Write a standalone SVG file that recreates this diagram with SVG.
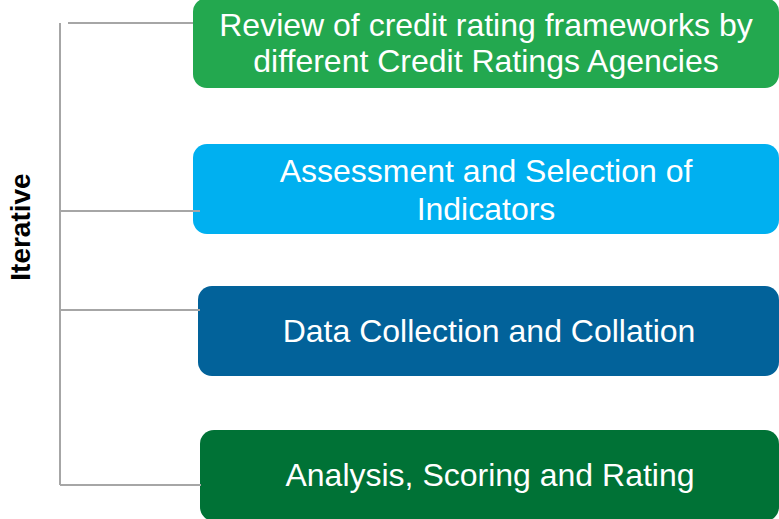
<svg xmlns="http://www.w3.org/2000/svg" width="779" height="519" viewBox="0 0 779 519">
  <style>
    .box-text { font-family: "Liberation Sans", Arial, sans-serif; font-size: 32px; fill: #ffffff; text-anchor: middle; }
    .conn { stroke: #a6a6a6; stroke-width: 2; fill: none; }
    .label { font-family: "Liberation Sans", Arial, sans-serif; font-size: 28px; font-weight: bold; fill: #000000; text-anchor: middle; }
  </style>
  <rect width="779" height="519" fill="#ffffff"/>

  <g id="iterative-label">
    <text class="label" transform="translate(30,227) rotate(-90)">Iterative</text>
  </g>

  <g id="node-review">
    <rect x="193" y="-2" width="586" height="90" rx="14" fill="#23a84f"/>
    <text class="box-text" x="486" y="36">Review of credit rating frameworks by</text>
    <text class="box-text" x="486" y="72">different Credit Ratings Agencies</text>
  </g>

  <g id="node-assessment">
    <rect x="193" y="144" width="586" height="90" rx="14" fill="#00b0f0"/>
    <text class="box-text" x="486" y="182">Assessment and Selection of</text>
    <text class="box-text" x="486" y="220">Indicators</text>
  </g>

  <g id="node-data">
    <rect x="198" y="286" width="581" height="90" rx="14" fill="#02629a"/>
    <text class="box-text" x="489" y="342">Data Collection and Collation</text>
  </g>

  <g id="node-analysis">
    <rect x="200" y="430" width="579" height="91" rx="14" fill="#007236"/>
    <text class="box-text" x="490" y="486">Analysis, Scoring and Rating</text>
  </g>

  <g id="connectors">
    <line class="conn" x1="60" y1="23" x2="60" y2="485"/>
    <line class="conn" x1="68" y1="23" x2="193" y2="23"/>
    <line class="conn" x1="60" y1="211" x2="200" y2="211"/>
    <line class="conn" x1="60" y1="310" x2="200" y2="310"/>
    <line class="conn" x1="60" y1="485" x2="201" y2="485"/>
  </g>
</svg>
